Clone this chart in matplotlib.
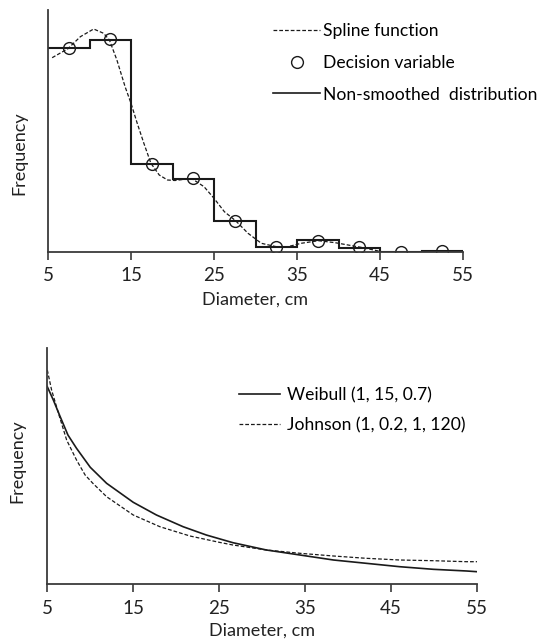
import matplotlib
matplotlib.use("Agg")
import matplotlib.pyplot as plt
from matplotlib.lines import Line2D

plt.rcParams['font.family'] = ['Lato', 'DejaVu Sans']

# ---------------- data: top panel ----------------
bin_edges = [5, 10, 15, 20, 25, 30, 35, 40, 45, 50, 55]
step_values = [203.7, 212, 87.7, 72.7, 31.3, 4.7, 12, 3.7, 0, 1]
decision_x = [7.5, 12.5, 17.5, 22.5, 27.5, 32.5, 37.5, 42.5, 47.5, 52.5]
decision_y = [203.7, 212.5, 88.3, 73.7, 31.3, 5.3, 11.3, 4.5, 0, 1]
spline_x = [5.5, 7.4, 8.9, 10.5, 11.7, 12.4, 13.3, 14.3, 15.0, 15.75, 16.55,
            17.4, 18.4, 19.4, 20.3, 21.4, 22.4, 23.8, 25.0, 26.25, 27.6, 29.1,
            30.7, 32.5, 33.9, 35.5, 37.6, 39.6, 42.7, 45.2, 46.5]
spline_y = [194.3, 203.3, 215.3, 223, 218.7, 212, 192, 165, 148.7, 128.7, 108.7,
            88.7, 77, 72, 71.5, 72.7, 73, 65.3, 53.7, 40.3, 31.3, 18.7,
            8.7, 5.3, 5.3, 8.7, 11.3, 9.3, 4.7, 0.3, 0]

# ---------------- data: bottom panel ----------------
weibull_x = [5, 5.7, 6.5, 7.4, 8.4, 10, 11.9, 15, 17.7, 20.8, 23.5, 26.6, 30.5,
             34.4, 38.3, 42.1, 46, 49.9, 53.8, 55]
weibull_y = [197.6, 184.3, 167.6, 149.3, 136, 117, 101, 82, 69.3, 57.6, 49.3,
             41.6, 34.3, 29.3, 24.3, 21, 17.6, 15, 13.3, 12.6]
johnson_x = [5, 5.5, 6.3, 7.25, 8.4, 9.4, 10.3, 11.9, 15, 18.1, 21.6, 25, 26.6,
             30.5, 34.4, 38.3, 42.1, 46, 49.9, 53.8, 55]
johnson_y = [214.3, 194.3, 171, 144.3, 124.3, 109.3, 101, 87.6, 69.3, 57.6, 48.3,
             42, 39.3, 34.3, 31, 28.3, 26, 24.3, 23.6, 22.6, 22.6]

xticks = [5, 15, 25, 35, 45, 55]
xlabel = "Diameter, cm"
ylabel = "Frequency"

W, H = 537, 641
fig = plt.figure(figsize=(W / 100, H / 100), dpi=100)

def px_axes(l, t, r, b):
    return fig.add_axes([l / W, 1 - b / H, (r - l) / W, (b - t) / H])

axis_col = '#3a3a3a'
txt_col = '#222222'
fs_tick = 13.5
fs_lab = 13
fs_leg = 12.6

def style(ax, ymax):
    ax.set_xlim(5, 55)
    ax.set_ylim(0, ymax)
    for s in ['top', 'right']:
        ax.spines[s].set_visible(False)
    for s in ['left', 'bottom']:
        ax.spines[s].set_color(axis_col)
        ax.spines[s].set_linewidth(1.3)
    ax.set_xticks(xticks)
    ax.set_xticklabels([str(t) for t in xticks], fontsize=fs_tick, color=txt_col)
    ax.set_yticks([])
    ax.tick_params(axis='x', direction='out', length=6, width=1.2,
                   color=axis_col, pad=5)

# ---------- top ----------
ax1 = px_axes(48, 10, 463, 252)
style(ax1, 242)
ax1.stairs(step_values, bin_edges, color='#1a1a1a', linewidth=1.5, baseline=None)
ax1.plot(spline_x, spline_y, color='#1a1a1a', linewidth=0.9, dashes=(3, 1.6))
ax1.plot(decision_x, decision_y, linestyle='none', marker='o', markersize=8.5,
         markerfacecolor='none', markeredgecolor='#1a1a1a', markeredgewidth=1.0)
ax1.set_xlabel(xlabel, fontsize=fs_lab, color=txt_col, labelpad=5)
fig.text(19 / W, 1 - 153 / H, ylabel, rotation=90, fontsize=fs_lab, color=txt_col,
         ha='center', va='center')

h1 = [Line2D([], [], color='#1a1a1a', linewidth=0.9, dashes=(3, 1.6)),
      Line2D([], [], linestyle='none', marker='o', markersize=8.5,
             markerfacecolor='none', markeredgecolor='#1a1a1a', markeredgewidth=1.0),
      Line2D([], [], color='#1a1a1a', linewidth=1.2)]
fig.legend(h1, ['Spline function', 'Decision variable', 'Non-smoothed  distribution'],
           loc='upper left', bbox_to_anchor=(273 / W, 1 - 23 / H),
           bbox_transform=fig.transFigure, frameon=False, fontsize=fs_leg,
           handlelength=2.7, handletextpad=0.15, labelspacing=0.9,
           borderpad=0, borderaxespad=0)

# ---------- bottom ----------
ax2 = px_axes(47.3, 348.3, 477, 584.3)
style(ax2, 236)
ax2.plot(weibull_x, weibull_y, color='#1a1a1a', linewidth=1.2)
ax2.plot(johnson_x, johnson_y, color='#1a1a1a', linewidth=0.9, dashes=(3, 1.6))
ax2.set_xlabel(xlabel, fontsize=fs_lab, color=txt_col, labelpad=4)
fig.text(17 / W, 1 - 461 / H, ylabel, rotation=90, fontsize=fs_lab, color=txt_col,
         ha='center', va='center')

h2 = [Line2D([], [], color='#1a1a1a', linewidth=1.2),
      Line2D([], [], color='#1a1a1a', linewidth=0.9, dashes=(3, 1.6))]
fig.legend(h2, ['Weibull (1, 15, 0.7)', 'Johnson (1, 0.2, 1, 120)'],
           loc='upper left', bbox_to_anchor=(239 / W, 1 - 387 / H),
           bbox_transform=fig.transFigure, frameon=False, fontsize=fs_leg,
           handlelength=2.35, handletextpad=0.4, labelspacing=0.8,
           borderpad=0, borderaxespad=0)

fig.savefig('out.png', dpi=100)
